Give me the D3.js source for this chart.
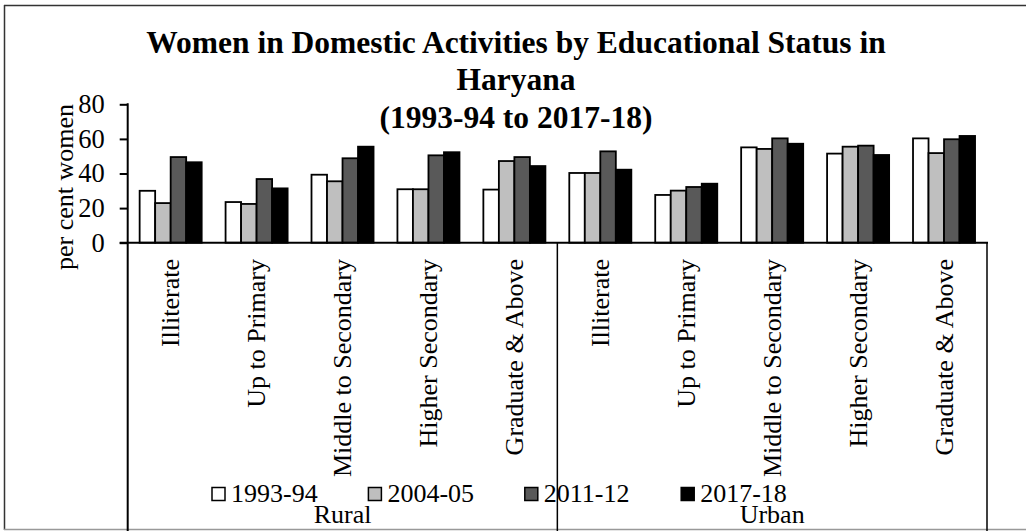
<!DOCTYPE html>
<html>
<head>
<meta charset="utf-8">
<script src="https://cdn.jsdelivr.net/npm/d3@7"></script>
<style>
  html, body { margin: 0; padding: 0; background: #fff; }
  svg { display: block; }
  text { font-family: "Liberation Serif", "Times New Roman", serif; fill: #000; }
</style>
</head>
<body>
<svg id="chart" width="1026" height="531"></svg>
<script>
// ---- Data ----
const titleLines = ["Women in Domestic Activities by Educational Status in", "Haryana", "(1993-94 to 2017-18)"];
const yAxisTitle = "per cent women";
const areas = ["Rural", "Urban"];
const levels = ["Illiterate", "Up to Primary", "Middle to Secondary", "Higher Secondary", "Graduate & Above"];
const seriesNames = ["1993-94", "2004-05", "2011-12", "2017-18"];
const seriesColors = ["#ffffff", "#bfbfbf", "#595959", "#000000"];
const yTicks = [0, 20, 40, 60, 80];
// values: Rural (5 levels) then Urban (5 levels)
const v1993 = [30.0, 23.5, 39.3, 30.9, 30.7, 40.3, 27.6, 55.1, 51.5, 60.3];
const v2004 = [22.9, 22.4, 35.5, 30.9, 47.2, 40.3, 30.1, 54.2, 55.5, 51.8];
const v2011 = [49.5, 36.8, 48.8, 50.5, 49.5, 52.8, 32.2, 60.3, 56.1, 59.8];
const v2017 = [46.5, 31.4, 55.5, 52.3, 44.3, 42.2, 34.1, 57.2, 50.7, 61.7];
const seriesValues = [v1993, v2004, v2011, v2017];

// ---- Layout ----
const svg = d3.select("#chart");
const W = 1026, H = 531;
const plotLeft = 127.7, plotRight = 987, plotTop = 104.3, plotBottom = 242.7;

const cats = [];
areas.forEach(a => levels.forEach(l => cats.push(a + "|" + l)));

const x = d3.scaleBand().domain(cats).range([plotLeft, plotRight]).paddingInner(0.278).paddingOuter(0.139);
const xs = d3.scaleBand().domain(seriesNames).range([0, x.bandwidth()]);
const y = d3.scaleLinear().domain([0, 80]).range([plotBottom, plotTop]);

// outer border
svg.append("line").attr("x1", 4.5).attr("x2", 4.5).attr("y1", 5).attr("y2", 530).attr("stroke", "#333").attr("stroke-width", 1.5);
svg.append("line").attr("x1", 4).attr("x2", W).attr("y1", 5.5).attr("y2", 5.5).attr("stroke", "#333").attr("stroke-width", 1.5);
svg.append("line").attr("x1", 4).attr("x2", W).attr("y1", 529.5).attr("y2", 529.5).attr("stroke", "#999").attr("stroke-width", 1.5);

// title
const title = svg.append("text").attr("text-anchor", "middle").attr("font-weight", "bold").attr("font-size", 31.5);
titleLines.forEach((t, i) => {
  title.append("tspan").attr("x", 516).attr("y", 53 + i * 37.3).text(t);
});

// bars
const bars = svg.append("g");
seriesNames.forEach((s, si) => {
  bars.selectAll(null).data(seriesValues[si]).enter().append("rect")
    .attr("x", (d, i) => x(cats[i]) + xs(s))
    .attr("y", d => y(d))
    .attr("width", xs.bandwidth())
    .attr("height", d => y(0) - y(d))
    .attr("fill", seriesColors[si])
    .attr("stroke", "#000")
    .attr("stroke-width", 1.8);
});

// y axis
const yAxis = d3.axisLeft(y).tickValues(yTicks).tickSize(8).tickSizeOuter(0).tickPadding(15);
const yg = svg.append("g").attr("transform", `translate(${plotLeft},0)`).call(yAxis);
yg.select(".domain").remove();
yg.selectAll(".tick line").attr("stroke", "#000").attr("stroke-width", 2);
yg.selectAll(".tick text").attr("font-size", 26.5).attr("font-family", "'Liberation Serif', 'Times New Roman', serif").attr("fill", "#000");
svg.append("line").attr("x1", plotLeft).attr("x2", plotLeft).attr("y1", plotTop - 1).attr("y2", H).attr("stroke", "#000").attr("stroke-width", 2);

// x axis line & group dividers
svg.append("line").attr("x1", plotLeft - 8).attr("x2", plotRight + 1).attr("y1", plotBottom).attr("y2", plotBottom).attr("stroke", "#000").attr("stroke-width", 2);
const dividerX = [x(cats[levels.length]) - x.step() * x.paddingInner() / 2, plotRight];
dividerX.forEach(dx => {
  svg.append("line").attr("x1", dx).attr("x2", dx).attr("y1", plotBottom).attr("y2", H).attr("stroke", "#000").attr("stroke-width", 1.5);
});

// category labels (rotated)
svg.append("g").selectAll("text").data(cats).enter().append("text")
  .attr("transform", d => `translate(${x(d) + x.bandwidth() / 2},259) rotate(-90)`)
  .attr("text-anchor", "end")
  .attr("dy", "0.33em")
  .attr("font-size", 26)
  .text(d => d.split("|")[1]);

// area labels
areas.forEach((a, ai) => {
  const first = x(cats[ai * levels.length]) - x.step() * x.paddingInner() / 2;
  const cx = first + x.step() * levels.length / 2;
  svg.append("text").attr("x", cx).attr("y", 523).attr("text-anchor", "middle").attr("font-size", 26).text(a);
});

// y axis title
svg.append("text")
  .attr("transform", `translate(73,187) rotate(-90)`)
  .attr("text-anchor", "middle")
  .attr("font-size", 26)
  .text(yAxisTitle);

// legend
const leg = svg.append("g");
seriesNames.forEach((s, i) => {
  const lx = 212 + i * 156.4;
  leg.append("rect").attr("x", lx).attr("y", 487.5).attr("width", 13).attr("height", 13)
    .attr("fill", seriesColors[i]).attr("stroke", "#000").attr("stroke-width", 1.5);
  leg.append("text").attr("x", lx + 19).attr("y", 502).attr("font-size", 26).text(s);
});
</script>
</body>
</html>
